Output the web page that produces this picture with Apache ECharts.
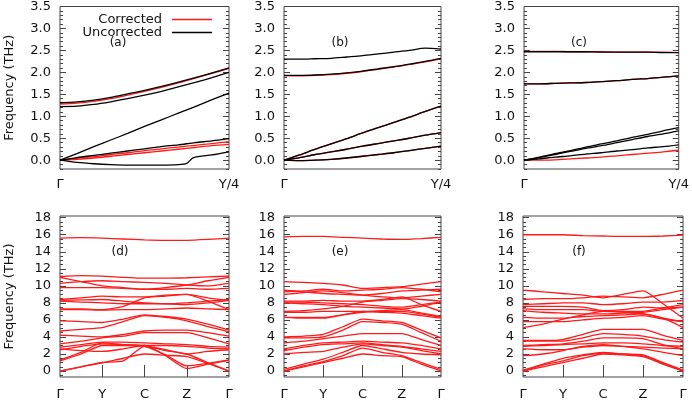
<!DOCTYPE html>
<html><head><meta charset="utf-8">
<script src="https://cdn.jsdelivr.net/npm/echarts@6/dist/echarts.min.js"></script>
<style>html,body{margin:0;padding:0;background:#fff}#c{width:692px;height:401px}</style>
</head><body><div id="c"></div>
<script>
// ---------- data ----------
const topX = [0,0.1,0.2,0.3,0.4,0.5,0.6,0.7,0.8,0.9,1.0];
const topTickLabels = ['Γ','Y/4'];
const botX = [0,0.5,1,1.5,2,2.5,3,3.5,4];
const botTickLabels = ['Γ','Y','C','Z','Γ'];
const topYTicks = [0,0.5,1,1.5,2,2.5,3,3.5];
const botYTicks = [0,2,4,6,8,10,12,14,16,18];

// panel (a)
const aBlack1 = [1.31,1.33,1.37,1.43,1.51,1.59,1.68,1.78,1.88,1.99,2.10];
const aBlack2 = [1.22,1.23,1.27,1.33,1.40,1.48,1.57,1.67,1.77,1.88,2.00];
const aBlack3 = [0,0.15,0.31,0.46,0.61,0.77,0.92,1.07,1.22,1.38,1.53];
const aBlack4 = [0,0.06,0.11,0.16,0.21,0.26,0.31,0.35,0.40,0.44,0.49];
const aBlack5X = [0,0.1,0.2,0.3,0.4,0.5,0.6,0.7,0.75,0.79,0.9,1.0];
const aBlack5 = [0,-0.05,-0.08,-0.10,-0.11,-0.11,-0.11,-0.10,-0.07,0.06,0.12,0.19];
const aRed1 = [1.28,1.30,1.34,1.40,1.48,1.57,1.66,1.76,1.87,1.98,2.09];
const aRed2 = [0,0.04,0.08,0.13,0.17,0.22,0.26,0.30,0.34,0.38,0.42];
const aRed3 = [0,0.02,0.05,0.09,0.13,0.17,0.21,0.25,0.29,0.33,0.36];
// panel (b)
const bBlack1 = [2.30,2.30,2.31,2.32,2.35,2.38,2.42,2.46,2.50,2.55,2.53];
const bBlack2 = [1.93,1.93,1.94,1.96,1.99,2.03,2.08,2.13,2.19,2.25,2.32];
const bBlack3 = [0,0.12,0.25,0.37,0.49,0.62,0.74,0.86,0.98,1.11,1.23];
const bBlack4 = [0,0.06,0.13,0.19,0.25,0.32,0.38,0.44,0.50,0.57,0.63];
const bBlack5 = [0,-0.01,0,0.02,0.05,0.09,0.13,0.17,0.22,0.27,0.32];
const bRed1 = [1.92,1.92,1.93,1.95,1.98,2.02,2.07,2.12,2.18,2.24,2.31];
const bRed2 = [0,-0.01,0.0,0.02,0.05,0.09,0.13,0.17,0.22,0.27,0.32];
// panel (c)
const cBlack1 = [2.47,2.47,2.47,2.47,2.47,2.46,2.46,2.46,2.46,2.45,2.45];
const cBlack2 = [1.74,1.74,1.75,1.76,1.77,1.79,1.81,1.84,1.86,1.89,1.92];
const cBlack3 = [0,0.07,0.15,0.22,0.30,0.37,0.44,0.52,0.59,0.67,0.74];
const cBlack4 = [0,0.06,0.13,0.20,0.27,0.33,0.40,0.47,0.54,0.60,0.67];
const cBlack5 = [0,0.03,0.07,0.10,0.14,0.17,0.21,0.24,0.28,0.31,0.35];
const cRed1 = [2.48,2.48,2.48,2.47,2.47,2.47,2.46,2.46,2.46,2.46,2.45];
const cRed2 = [1.74,1.74,1.75,1.76,1.77,1.79,1.81,1.84,1.86,1.89,1.92];
const cRed3 = [0,0.0,0.01,0.03,0.05,0.07,0.10,0.13,0.16,0.19,0.23];

// panel (d) bands at Γ .. Y .. C .. Z .. Γ
const dBands = [
 [15.6,15.65,15.6,15.5,15.4,15.35,15.35,15.45,15.6],
 [11.1,11.2,11.15,11.0,10.9,10.9,10.95,11.05,11.15],
 [11.0,10.5,10.0,9.8,9.6,9.8,10.1,10.6,11.0],
 [10.3,10.5,10.6,10.5,10.4,10.3,10.1,10.0,10.3],
 [9.8,9.8,9.8,9.7,9.6,9.6,9.7,9.6,9.7],
 [8.4,8.6,8.8,8.7,8.7,8.9,9.0,8.2,7.2],
 [8.3,8.35,8.4,8.2,8.0,7.9,7.8,8.0,8.3],
 [8.2,8.1,8.0,7.9,7.9,7.9,8.0,8.2,8.4],
 [7.3,7.3,7.2,7.6,8.6,8.8,9.0,8.6,8.3],
 [7.2,7.2,7.15,7.2,7.2,7.3,7.4,7.3,7.2],
 [5.9,5.8,5.7,6.1,6.6,6.4,6.1,5.5,4.8],
 [4.7,4.9,5.1,5.8,6.5,6.3,5.9,5.2,4.6],
 [4.2,4.1,4.0,4.3,4.7,4.8,4.8,4.5,4.1],
 [3.2,3.5,3.9,4.1,4.5,4.5,4.5,3.9,3.2],
 [2.8,3.1,3.4,3.4,3.3,3.2,3.1,2.9,2.8],
 [2.6,2.4,2.3,2.6,3.0,3.0,2.9,2.7,2.6],
 [2.5,2.9,3.2,3.1,3.0,2.5,2.0,2.3,2.5],
 [1.3,2.2,3.3,3.1,2.9,1.9,0.6,0.9,1.3],
 [1.2,2.0,3.0,3.0,3.0,1.8,0.3,0.8,1.25],
 [0,0.5,0.95,1.5,2.0,1.85,1.7,0.9,0],
 [0,0.5,1.0,1.2,2.9,2.4,2.0,1.0,0]
];
// panel (e)
const eBands = [
 [15.75,15.8,15.8,15.7,15.6,15.5,15.45,15.55,15.7],
 [10.5,10.4,10.3,10.1,9.7,9.8,9.9,10.2,10.5],
 [9.5,9.3,9.1,9.0,8.9,9.1,9.4,9.5,9.6],
 [9.3,9.4,9.6,9.4,9.5,9.6,9.8,9.6,9.3],
 [9.0,9.2,9.4,9.2,8.9,8.7,8.6,8.8,9.0],
 [8.2,8.2,8.3,8.2,8.2,8.4,8.7,7.8,7.0],
 [8.1,8.1,8.0,7.9,7.8,7.6,7.5,7.8,8.1],
 [8.0,7.9,7.8,7.6,7.5,7.4,7.3,7.6,8.1],
 [7.0,7.1,7.3,7.6,8.1,8.3,8.5,8.4,8.2],
 [6.9,6.9,7.0,7.0,7.0,7.1,7.2,6.8,6.4],
 [6.3,6.3,6.3,6.6,6.9,7.0,7.0,6.7,6.3],
 [6.3,6.2,6.2,6.6,7.0,6.9,6.8,6.5,6.2],
 [4.0,4.1,4.3,5.2,6.1,5.9,5.7,4.8,3.9],
 [3.9,3.9,4.0,4.8,5.8,5.7,5.5,4.5,3.5],
 [3.3,3.5,3.8,4.1,4.4,4.4,4.4,3.7,3.0],
 [2.6,3.0,3.3,3.4,3.5,3.4,3.3,3.0,2.6],
 [2.4,2.8,3.1,3.2,3.3,3.1,2.9,2.6,2.3],
 [2.0,2.2,2.3,2.8,3.2,3.0,2.8,2.4,2.0],
 [0.2,0.8,1.4,2.2,3.0,2.6,2.2,2.0,1.9],
 [0,0.6,1.1,1.8,2.7,2.2,1.8,1.0,0.2],
 [0,0.5,1.0,1.5,2.0,1.8,1.7,0.8,0]
];
// panel (f)
const fBands = [
 [16.0,16.0,16.0,15.9,15.85,15.8,15.8,15.85,15.95],
 [9.5,9.3,9.1,8.9,8.6,9.0,9.4,7.9,6.2],
 [8.4,8.5,8.5,8.6,8.8,8.7,8.6,9.0,9.5],
 [7.8,7.9,8.0,8.0,7.8,7.9,8.1,8.1,8.3],
 [7.6,7.6,7.6,7.5,7.1,7.2,7.5,7.4,7.5],
 [7.3,7.2,7.2,7.2,7.0,7.0,7.0,7.4,7.8],
 [7.1,6.9,6.8,6.7,6.7,6.8,6.9,7.2,7.5],
 [6.3,6.2,6.2,6.4,6.5,6.6,6.7,6.2,5.8],
 [5.8,5.8,5.8,6.0,6.2,6.3,6.5,6.1,5.8],
 [5.1,5.5,6.1,6.6,7.0,6.9,6.7,6.2,5.1],
 [3.6,3.6,3.7,4.3,4.9,4.9,4.9,4.2,3.6],
 [3.5,3.5,3.5,3.9,4.4,4.3,4.1,3.7,3.4],
 [3.0,3.1,3.2,3.5,3.9,3.9,3.8,3.1,2.6],
 [2.9,3.0,3.1,3.2,3.3,3.3,3.2,3.0,2.9],
 [2.6,2.5,2.5,2.8,3.0,2.9,2.8,2.7,2.6],
 [1.8,2.0,2.4,2.9,3.1,2.9,2.6,2.2,1.8],
 [0.1,0.8,1.5,1.9,2.2,2.0,1.9,1.0,0.1],
 [0,0.7,1.2,1.8,2.1,2.0,1.8,0.9,0.05],
 [0,0.5,1.0,1.5,2.0,1.9,1.7,0.8,0]
];

// ---------- layout ----------
const RED = '#ff1a1a', BLACK = '#000000', FRAME = '#444', TXT = '#111';
const FONT = 'DejaVu Sans';
const panels = [
 {grid:{left:60, top:5, width:169, height:164}, top:true, label:'(a)', lx:118, ly:43,
  black:[[topX,aBlack1],[topX,aBlack2],[topX,aBlack3],[topX,aBlack4],[aBlack5X,aBlack5]],
  red:[[topX,aRed1],[topX,aRed2],[topX,aRed3]], yname:true},
 {grid:{left:284, top:5, width:157, height:164}, top:true, label:'(b)', lx:340, ly:43,
  black:[[topX,bBlack1],[topX,bBlack2],[topX,bBlack3],[topX,bBlack4],[topX,bBlack5]],
  red:[[topX,bRed1],[topX,bRed2],[topX,bBlack3],[topX,bBlack4]]},
 {grid:{left:524, top:5, width:156, height:164}, top:true, label:'(c)', lx:579, ly:43,
  black:[[topX,cBlack1],[topX,cBlack2],[topX,cBlack3],[topX,cBlack4],[topX,cBlack5]],
  red:[[topX,cRed1],[topX,cRed2],[topX,cRed3]]},
 {grid:{left:60, top:216, width:169, height:162}, top:false, label:'(d)', lx:120, ly:252,
  red:dBands.map(b=>[botX,b]), black:[], yname:true},
 {grid:{left:284, top:216, width:157, height:162}, top:false, label:'(e)', lx:340, ly:252,
  red:eBands.map(b=>[botX,b]), black:[]},
 {grid:{left:523, top:216, width:160, height:162}, top:false, label:'(f)', lx:579, ly:252,
  red:fBands.map(b=>[botX,b]), black:[]}
];

function range(a,b,s){const r=[];for(let v=a;v<=b+1e-9;v+=s){r.push(Math.round(v*1000)/1000);}return r;}

const grids=[], xAxes=[], yAxes=[], series=[], graphics=[];
panels.forEach((p,pi)=>{
  grids.push(Object.assign({show:true, borderColor:FRAME, borderWidth:1, containLabel:false}, p.grid));
  const ymin = p.top ? -0.2 : -0.7, ymax = p.top ? 3.5 : 18.2;
  const major = p.top ? topYTicks : botYTicks;
  const minor = (p.top ? range(-0.2,3.5,0.1) : range(-0.5,18,0.5)).filter(v=>!major.some(m=>Math.abs(m-v)<1e-6));
  const xmax = p.top ? 1 : 4;
  const xlabVals = p.top ? [0,1] : [0,1,2,3,4];
  const xlabNames = p.top ? topTickLabels : botTickLabels;
  const xtick = p.top ? [] : [1,2,3];
  ['bottom','top'].forEach((pos,k)=>{
    xAxes.push({type:'value', gridIndex:pi, position:pos, min:0, max:xmax,
      axisLine:{show:false}, splitLine:{show:false},
      axisTick:{show:xtick.length>0, inside:true, length:6, customValues:xtick, lineStyle:{color:FRAME}},
      axisLabel:{show:k===0, customValues:xlabVals, margin: p.top ? 9 : 11, color:TXT, fontFamily:FONT, fontSize:13,
        formatter:(v)=>xlabNames[xlabVals.indexOf(Math.round(v))] || ''}});
  });
  ['left','right'].forEach((pos,k)=>{
    yAxes.push({type:'value', gridIndex:pi, position:pos, min:ymin, max:ymax,
      name: (k===0 && p.yname) ? 'Frequency (THz)' : '', nameLocation:'middle', nameGap:44,
      nameTextStyle:{fontFamily:FONT, fontSize:13, color:TXT},
      axisLine:{show:false}, splitLine:{show:false},
      axisTick:{show:true, inside:true, length:6, customValues:major, lineStyle:{color:FRAME}},
      axisLabel:{show:k===0, customValues:major, margin:9, color:TXT, fontFamily:FONT, fontSize:13,
        formatter:(v)=> p.top ? v.toFixed(1) : String(Math.round(v))}});
    yAxes.push({type:'value', gridIndex:pi, position:pos, min:ymin, max:ymax,
      axisLine:{show:false}, splitLine:{show:false}, axisLabel:{show:false},
      axisTick:{show:true, inside:true, length:3, customValues:minor, lineStyle:{color:FRAME}}});
  });
  const mk=(pair,color,name,z)=>({type:'line', name, xAxisIndex:pi*2, yAxisIndex:pi*4,
     data:pair[0].map((x,i)=>[x,pair[1][i]]), showSymbol:false, symbol:'none', color,
     lineStyle:{color, width:1.3}, smooth: p.top ? 0.25 : 0.2, silent:true, z, clip:true});
  p.red.forEach(pr=>series.push(mk(pr,RED,'Corrected',2)));
  p.black.forEach(pr=>series.push(mk(pr,BLACK,'Uncorrected',3)));
  graphics.push({type:'text', x:p.lx, y:p.ly, style:{text:p.label, fontFamily:FONT, fontSize:12, fill:TXT, align:'center', verticalAlign:'middle'}});
});

const chart = echarts.init(document.getElementById('c'), null, {renderer:'canvas'});
chart.setOption({
  animation:false,
  backgroundColor:'#fff',
  grid:grids, xAxis:xAxes, yAxis:yAxes, series,
  legend:{data:['Corrected','Uncorrected'], orient:'vertical', align:'right', right:475, top:8,
    icon:'rect', itemWidth:40, itemHeight:1.5, itemGap:0,
    textStyle:{fontFamily:FONT, fontSize:13, color:TXT, lineHeight:13, padding:[0,5,0,0]}},
  graphic:graphics
});
</script></body></html>
